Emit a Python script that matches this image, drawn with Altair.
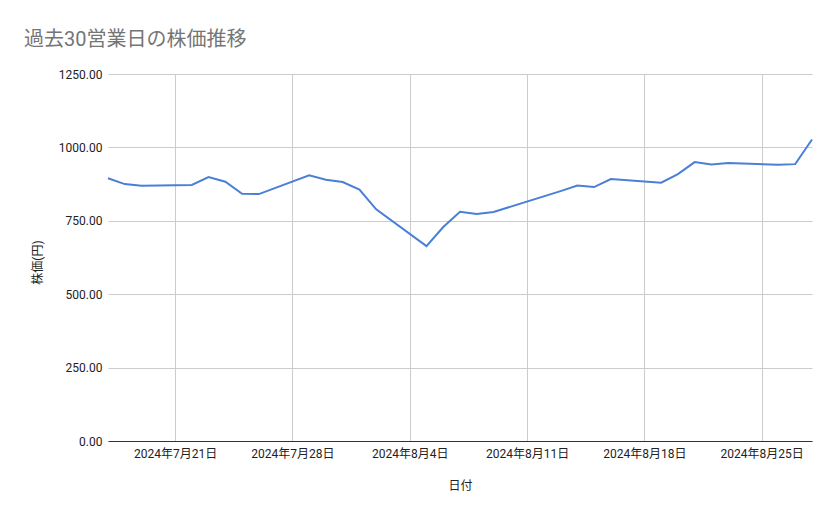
import altair as alt
import pandas as pd

# 過去30営業日の終値 (円)
dates = [
    "2024-07-17", "2024-07-18", "2024-07-19",
    "2024-07-22", "2024-07-23", "2024-07-24", "2024-07-25", "2024-07-26",
    "2024-07-29", "2024-07-30", "2024-07-31", "2024-08-01", "2024-08-02",
    "2024-08-05", "2024-08-06", "2024-08-07", "2024-08-08", "2024-08-09",
    "2024-08-13", "2024-08-14", "2024-08-15", "2024-08-16",
    "2024-08-19", "2024-08-20", "2024-08-21", "2024-08-22", "2024-08-23",
    "2024-08-26", "2024-08-27", "2024-08-28",
]
prices = [
    895, 875, 869,
    872, 899, 883, 842, 841,
    905, 890, 882, 856, 789,
    664, 729, 781, 773, 780,
    851, 870, 865, 892,
    880, 909, 950, 942, 947,
    941, 943, 1027,
]
tick_days = [(7, 21), (7, 28), (8, 4), (8, 11), (8, 18), (8, 25)]
y_ticks = [0, 250, 500, 750, 1000, 1250]

df = pd.DataFrame({"日付": [d + "T00:00:00" for d in dates], "株価": prices})

font = "Roboto, Noto Sans CJK JP"

chart = alt.Chart(df).mark_line(color="#4a7fd6", strokeWidth=2).encode(
    x=alt.X(
        "日付:T",
        title="日付",
        scale=alt.Scale(
            domain=[alt.DateTime(year=2024, month=7, date=17),
                    alt.DateTime(year=2024, month=8, date=28)],
            nice=False,
        ),
        axis=alt.Axis(
            values=[alt.DateTime(year=2024, month=m, date=d) for m, d in tick_days],
            format="%Y年%-m月%-d日",
            grid=True, gridColor="#cccccc",
            domain=True, domainColor="#333333",
            ticks=False, labelPadding=7,
            labelFontSize=12, labelColor="#222222", labelFont=font,
            titleFontSize=12, titleFontWeight="normal", titleColor="#222222", titleFont=font,
            titleX=352, titleY=44, titleBaseline="middle",
        ),
    ),
    y=alt.Y(
        "株価:Q",
        title="株価(円)",
        scale=alt.Scale(domain=[0, 1250], nice=False),
        axis=alt.Axis(
            values=y_ticks, format=".2f",
            grid=True, gridColor="#cccccc",
            domain=False, ticks=False, labelPadding=6,
            labelFontSize=12, labelColor="#222222", labelFont=font,
            titleFontSize=12, titleFontWeight="normal", titleColor="#222222", titleFont=font,
            titleX=-71, titleY=188, titleBaseline="middle", titleAngle=270,
        ),
    ),
).properties(
    width=704,
    height=367,
    autosize="none",
    padding={"left": 100, "top": 66, "right": 19, "bottom": 70},
    title=alt.TitleParams(
        "過去30営業日の株価推移",
        anchor="start", dx=-7, dy=-14,
        fontSize=20, fontWeight="normal", color="#757575", font=font,
    ),
).configure_view(stroke=None)

chart.save("out.html", embed_options={"renderer": "svg", "actions": False})
